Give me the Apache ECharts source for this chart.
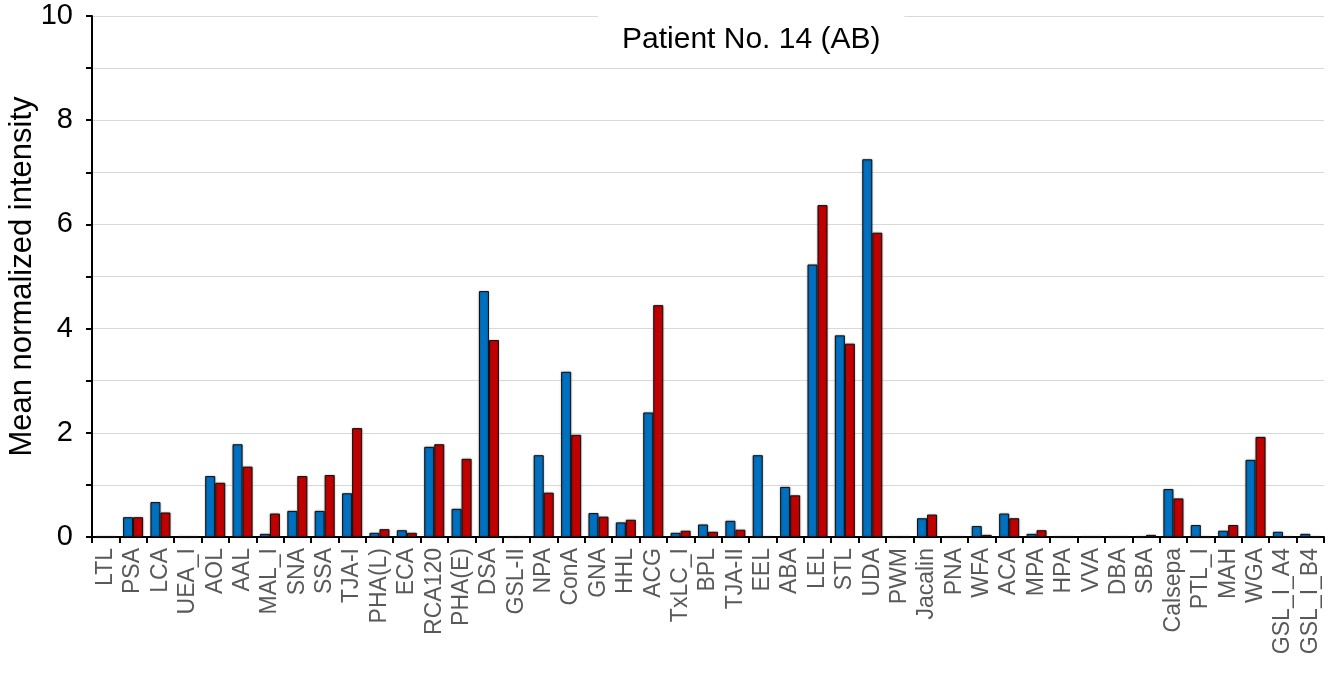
<!DOCTYPE html>
<html>
<head>
<meta charset="utf-8">
<script src="https://cdn.jsdelivr.net/npm/echarts@6/dist/echarts.min.js"></script>
<style>
html,body{margin:0;padding:0;background:#fff;}
#chart{width:1333px;height:673px;}
</style>
</head>
<body>
<div id="chart"></div>
<script>
const categories = ['LTL','PSA','LCA','UEA_I','AOL','AAL','MAL_I','SNA','SSA','TJA-I','PHA(L)','ECA','RCA120','PHA(E)','DSA','GSL-II','NPA','ConA','GNA','HHL','ACG','TxLC_I','BPL','TJA-II','EEL','ABA','LEL','STL','UDA','PWM','Jacalin','PNA','WFA','ACA','MPA','HPA','VVA','DBA','SBA','Calsepa','PTL_I','MAH','WGA','GSL_I_A4','GSL_I_B4'];
const blueValues = [0,0.38,0.67,0,1.17,1.78,0.06,0.50,0.50,0.84,0.08,0.13,1.73,0.54,4.72,0,1.57,3.17,0.46,0.28,2.39,0.08,0.24,0.31,1.57,0.96,5.23,3.87,7.25,0,0.36,0,0.21,0.45,0.06,0,0,0,0,0.92,0.23,0.12,1.48,0.10,0.06];
const redValues = [0,0.38,0.47,0,1.04,1.35,0.45,1.17,1.19,2.09,0.15,0.08,1.78,1.50,3.78,0,0.85,1.96,0.39,0.33,4.45,0.12,0.10,0.14,0,0.80,6.37,3.71,5.84,0,0.43,0,0.04,0.36,0.13,0,0,0,0.04,0.74,0,0.23,1.92,0,0];
const yTicks = [0,2,4,6,8,10];
const titleText = 'Patient No. 14 (AB)';
const yName = 'Mean normalized intensity';

const font = '"Liberation Sans", Arial, sans-serif';
const chart = echarts.init(document.getElementById('chart'), null, {renderer:'canvas'});
chart.setOption({
  animation: false,
  backgroundColor: '#fff',
  textStyle: {fontFamily: font},
  title: {
    text: titleText,
    left: 598,
    top: 13,
    padding: [12, 24, 12, 24],
    backgroundColor: '#fff',
    textStyle: {fontSize: 30, fontWeight: 'normal', color: '#000', fontFamily: font}
  },
  grid: {left: 92, right: 9, top: 16, bottom: 136, containLabel: false, outerBoundsMode: 'none'},
  xAxis: {
    type: 'category',
    data: categories,
    boundaryGap: true,
    axisLine: {lineStyle: {color: '#000', width: 2}},
    axisTick: {show: true, inside: false, length: 6, alignWithLabel: false, interval: 0, lineStyle: {color: '#000', width: 2}},
    axisLabel: {rotate: 90, interval: 0, fontSize: 23, color: '#595959', margin: 11, fontFamily: font},
    splitLine: {show: false}
  },
  yAxis: {
    type: 'value',
    min: 0, max: 10, interval: 1,
    name: yName,
    nameLocation: 'middle',
    nameGap: 54,
    nameMoveOverlap: false,
    nameTextStyle: {fontSize: 31, color: '#000', fontFamily: font},
    axisLine: {show: true, lineStyle: {color: '#000', width: 2}},
    axisTick: {show: true, inside: false, length: 6, lineStyle: {color: '#000', width: 2}},
    axisLabel: {
      fontSize: 29, color: '#000', margin: 19, fontFamily: font,
      formatter: function (v) { return yTicks.indexOf(v) >= 0 ? String(v) : ''; }
    },
    splitLine: {show: true, lineStyle: {color: '#d9d9d9', width: 1}}
  },
  series: [
    {
      type: 'bar', data: blueValues, barWidth: 10, barGap: '0%',
      itemStyle: {color: '#0070C0', borderColor: '#111', borderWidth: 1, shadowColor: 'rgba(0,0,0,0.35)', shadowBlur: 2}
    },
    {
      type: 'bar', data: redValues, barWidth: 10, barGap: '0%',
      itemStyle: {color: '#C00000', borderColor: '#111', borderWidth: 1, shadowColor: 'rgba(0,0,0,0.35)', shadowBlur: 2}
    }
  ]
});
</script>
</body>
</html>
